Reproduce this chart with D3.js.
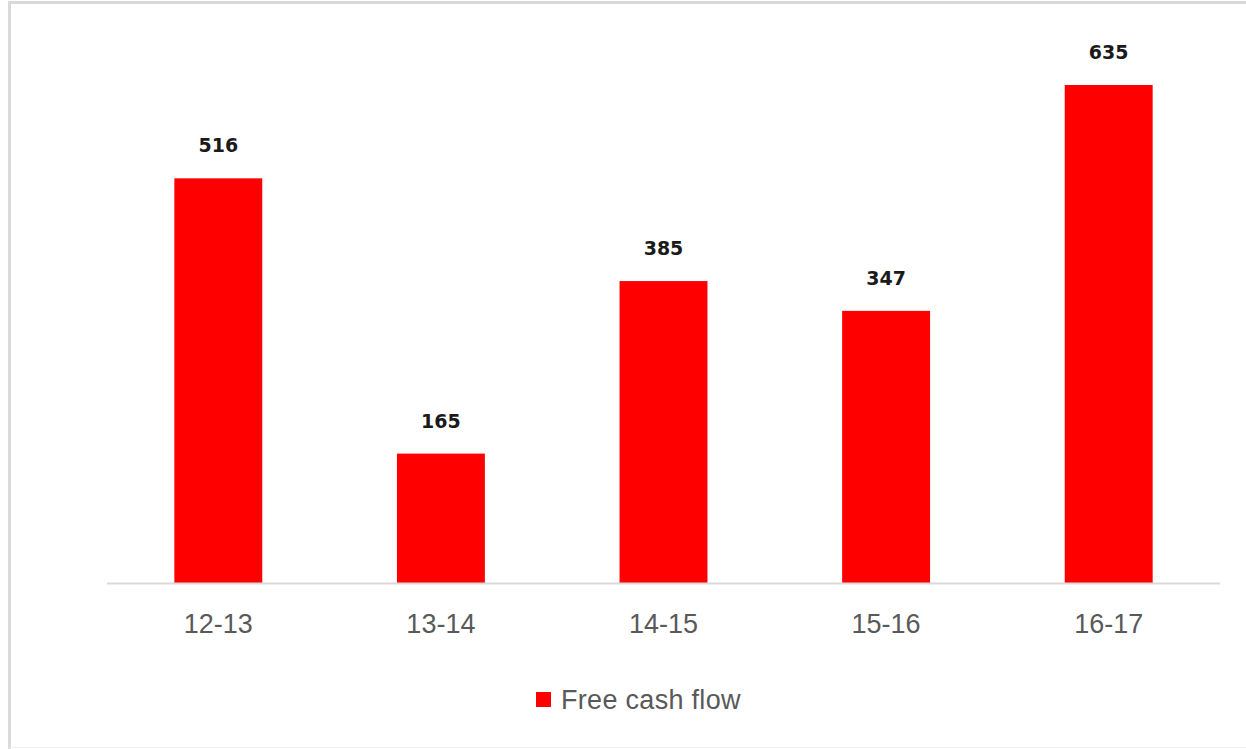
<!DOCTYPE html>
<html>
<head>
  <meta charset="utf-8">
  <title>Free cash flow</title>
  <script src="https://cdn.jsdelivr.net/npm/d3@7"></script>
  <style>
    body { margin: 0; background: #fff; }
    svg { display: block; }
  </style>
</head>
<body>
  <svg id="chart"></svg>

  <script>
    // data
    const years = ["12-13", "13-14", "14-15", "15-16", "16-17"];
    const cashFlow = [516, 165, 385, 347, 635];
    const seriesName = "Free cash flow";

    const width = 1246;
    const height = 749;
    const axisY = 583;

    const svg = d3.select("#chart")
      .attr("width", width)
      .attr("height", height);

    // chart frame: strong left/top edge, faint bottom edge
    svg.append("path")
      .attr("d", "M9.5,749V2.5H1246")
      .attr("fill", "none")
      .attr("stroke", "#d9d9d9")
      .attr("stroke-width", 3);

    svg.append("path")
      .attr("d", "M9.5,747.5H1246")
      .attr("fill", "none")
      .attr("stroke", "#f0f0f0")
      .attr("stroke-width", 1);

    const x = d3.scaleBand()
      .domain(years)
      .range([107, 1220])
      .paddingInner(0.605)
      .paddingOuter(0.3025);

    const y = d3.scaleLinear()
      .domain([0, 700])
      .range([axisY, axisY - 700 * 0.78425]);

    // bars
    svg.append("g")
      .attr("fill", "#ff0000")
      .selectAll("rect")
      .data(years)
      .join("rect")
      .attr("x", d => x(d))
      .attr("y", (d, i) => y(cashFlow[i]))
      .attr("width", x.bandwidth())
      .attr("height", (d, i) => y(0) - y(cashFlow[i]));

    // data labels
    svg.append("g")
      .style("font", "bold 19px 'DejaVu Sans', sans-serif")
      .attr("fill", "#1a1a1a")
      .attr("text-anchor", "middle")
      .selectAll("text")
      .data(years)
      .join("text")
      .attr("x", d => x(d) + x.bandwidth() / 2)
      .attr("y", (d, i) => y(cashFlow[i]) - 26)
      .text((d, i) => cashFlow[i]);

    // x axis
    const xAxis = svg.append("g")
      .attr("transform", `translate(0,${axisY})`)
      .call(d3.axisBottom(x).tickSize(0).tickPadding(31).tickSizeOuter(0));

    xAxis.select(".domain")
      .attr("d", "M107,0.5H1220")
      .attr("stroke", "#d9d9d9")
      .attr("stroke-width", 2);

    xAxis.selectAll("text")
      .style("font", "27px 'Liberation Sans', Arial, sans-serif")
      .attr("fill", "#595959");

    // legend
    const legend = svg.append("g")
      .attr("transform", "translate(536,692)");

    legend.append("rect")
      .attr("width", 15)
      .attr("height", 15)
      .attr("fill", "#ff0000");

    legend.append("text")
      .attr("x", 25)
      .attr("y", 17)
      .style("font", "27px 'Liberation Sans', Arial, sans-serif")
      .style("letter-spacing", "0.3px")
      .attr("fill", "#595959")
      .text(seriesName);
  </script>
</body>
</html>
